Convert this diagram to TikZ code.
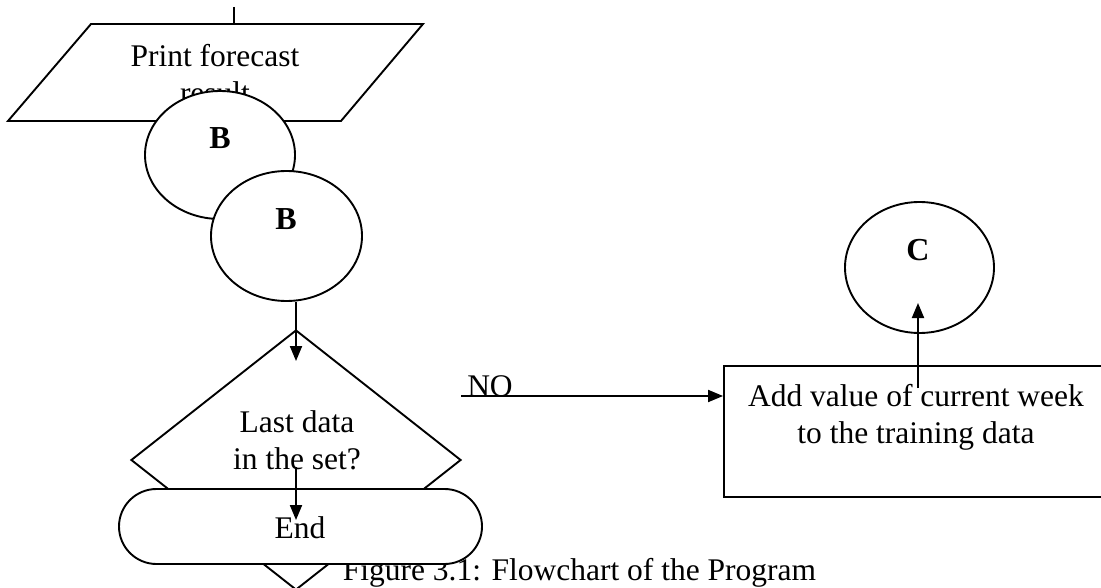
\documentclass[tikz,border=0pt]{standalone}
\usepackage{fontspec}
\setmainfont{Liberation Serif}
\usetikzlibrary{shapes.geometric,shapes.misc,arrows.meta,calc}
\tikzset{
  shp/.style={draw, line width=1.9pt, inner sep=0pt},
  whiteshp/.style={shp, fill=white},
  conn/.style={line width=1.9pt},
  arr/.style={conn, -{Triangle[length=15pt,width=12pt]}},
  lbl/.style={inner sep=0pt, font=\fontsize{31.5}{37}\selectfont, align=center},
  blbl/.style={inner sep=0pt, font=\fontsize{32}{38}\selectfont\bfseries},
}
\begin{document}
\begin{tikzpicture}[x=1pt,y=-1pt]
\useasboundingbox (0,0) rectangle (1101,588);
\clip (0,0) rectangle (1101,588);

% input/output parallelogram
\coordinate (Pin) at (234,7);
\coordinate (Ptop) at (234,24);
\draw[conn] (Pin) -- (Ptop);
\draw[shp] (91,24) coordinate (P1) -- (423,24) coordinate (P2) -- (341,121) coordinate (P3) -- (8,121) coordinate (P4) -- cycle;
\node[lbl] (Ptext) at (215,74) {Print forecast\\result};

% connector B (first)
\node[whiteshp, ellipse, minimum width=150pt, minimum height=128pt] (B1) at (220,155) {};
\node[blbl] (B1t) at (220,138) {B};

% connector B (second)
\node[whiteshp, ellipse, minimum width=151pt, minimum height=130pt] (B2) at (286.5,236) {};
\node[blbl] (B2t) at (286,219) {B};

% decision
\node[shp, diamond, minimum width=330pt, minimum height=260pt] (D) at (296,460) {};
\draw[arr] (D.north |- B2.south) -- ($(D.north)+(0,32)$) coordinate (Dtip);
\node[lbl] (Dtext) at (297,440) {Last data\\in the set?};

% caption
\node[lbl] (cap) at (579.5,573) {Figure 3.1: Flowchart of the Program};

% terminal
\node[whiteshp, rounded rectangle, minimum width=363pt, minimum height=75pt] (E) at (300.5,526.5) {};
\node[lbl] (Etext) at (300,528) {End};
\coordinate (Dout) at (296,467);
\draw[arr] (Dout) -- ($(E.north)+(-4.5,32)$) coordinate (Etip);

% NO branch
\coordinate (NOstart) at (461,396);
\node[whiteshp, draw, minimum width=391pt, minimum height=131pt] (Box) at (919.5,431.5) {};
\draw[arr] (NOstart) -- (NOstart -| Box.west);
\node[lbl] (NO) at (490,386) {NO};
\node[lbl] (Btext) at (916,417) {Add value of current week\\to the training data};

% connector C
\node[shp, ellipse, minimum width=149pt, minimum height=131pt] (C) at (919.5,267.5) {};
\node[blbl] (Ct) at (918,250) {C};
\coordinate (Cfrom) at (918,388);
\draw[arr] (Cfrom) -- (Cfrom |- 0,303);
\end{tikzpicture}
\end{document}
